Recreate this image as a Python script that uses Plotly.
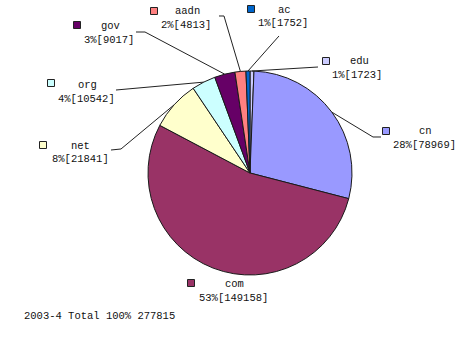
import math
import plotly.graph_objects as go

# ---- data ----
labels = ["edu", "cn", "com", "net", "org", "gov", "aadn", "ac"]
values = [1723, 78969, 149158, 21841, 10542, 9017, 4813, 1752]
pcts = [1, 28, 53, 8, 4, 3, 2, 1]
colors = ["#ccccff", "#9999ff", "#993366", "#ffffcc", "#ccffff", "#660066", "#ff8080", "#0066cc"]
footer = "2003-4 Total 100% 277815"

# ---- layout constants (pixels) ----
W, H = 473, 342
CX, CY, R = 250, 173, 102
FONT = "Liberation Mono"
FS = 10.5

# label layout: key box centre, name centre, value centre, leader start, elbow (or None)
label_layout = {
    "edu":  dict(box=(326, 61), name=(359, 61), val=(357, 75), start=(318, 67), elbow=None),
    "cn":   dict(box=(386, 131), name=(425, 131), val=(424, 145), start=(381, 137), elbow=(373, 137)),
    "com":  dict(box=(191, 283), name=(234, 284), val=(233, 298), start=None, elbow=None),
    "net":  dict(box=(43, 145), name=(80, 146), val=(80, 159), start=(111, 150), elbow=(121, 149)),
    "org":  dict(box=(51, 83), name=(87, 85), val=(86, 99), start=(116, 90), elbow=None),
    "gov":  dict(box=(77, 25), name=(110, 26), val=(109, 40), start=(136, 32), elbow=(145, 32)),
    "aadn": dict(box=(154, 11), name=(187, 11), val=(186, 25), start=(219, 16), elbow=(224, 16)),
    "ac":   dict(box=(251, 9), name=(284, 10), val=(283, 23), start=(279, 36), elbow=None),
}


def px(x):
    return x / W


def py(y):
    return 1 - y / H


fig = go.Figure(go.Pie(
    labels=labels,
    values=values,
    sort=False,
    direction="clockwise",
    rotation=0,
    marker=dict(colors=colors, line=dict(color="#1a1a1a", width=1)),
    textinfo="none",
    hoverinfo="label+value+percent",
    domain=dict(x=[px(CX - R), px(CX + R)], y=[py(CY + R), py(CY - R)]),
    showlegend=False,
))

annotations = []
shapes = []
total = sum(values)
cum = 0.0
for lab, v, p, c in zip(labels, values, pcts, colors):
    frac0 = cum / total
    cum += v
    frac1 = cum / total
    mid = (frac0 + frac1) / 2 * 2 * math.pi
    ex = CX + R * math.sin(mid)
    ey = CY - R * math.cos(mid)
    L = label_layout[lab]
    bx, by = L["box"]
    shapes.append(dict(type="rect", xref="paper", yref="paper",
                       x0=px(bx - 3.5), x1=px(bx + 3.5), y0=py(by + 3.5), y1=py(by - 3.5),
                       fillcolor=c, line=dict(color="#222222", width=1)))
    annotations.append(dict(x=px(L["name"][0]), y=py(L["name"][1]), xref="paper", yref="paper",
                            text=lab, showarrow=False, xanchor="center", yanchor="middle",
                            font=dict(family=FONT, size=FS, color="#111111")))
    annotations.append(dict(x=px(L["val"][0]), y=py(L["val"][1]), xref="paper", yref="paper",
                            text=f"{p}%[{v}]", showarrow=False, xanchor="center", yanchor="middle",
                            font=dict(family=FONT, size=FS, color="#111111")))
    if L["start"] is not None:
        pts = [L["start"]]
        if L["elbow"] is not None:
            pts.append(L["elbow"])
        pts.append((ex, ey))
        path = "M " + " L ".join(f"{px(a):.5f},{py(b):.5f}" for a, b in pts)
        shapes.append(dict(type="path", xref="paper", yref="paper", path=path,
                           line=dict(color="#222222", width=1)))

annotations.append(dict(x=px(22), y=py(316), xref="paper", yref="paper", text=footer,
                        showarrow=False, xanchor="left", yanchor="middle",
                        font=dict(family=FONT, size=FS, color="#111111")))

fig.update_layout(
    width=W, height=H,
    margin=dict(l=0, r=0, t=0, b=0),
    paper_bgcolor="white", plot_bgcolor="white",
    annotations=annotations, shapes=shapes,
)

fig.write_html("out.html")
